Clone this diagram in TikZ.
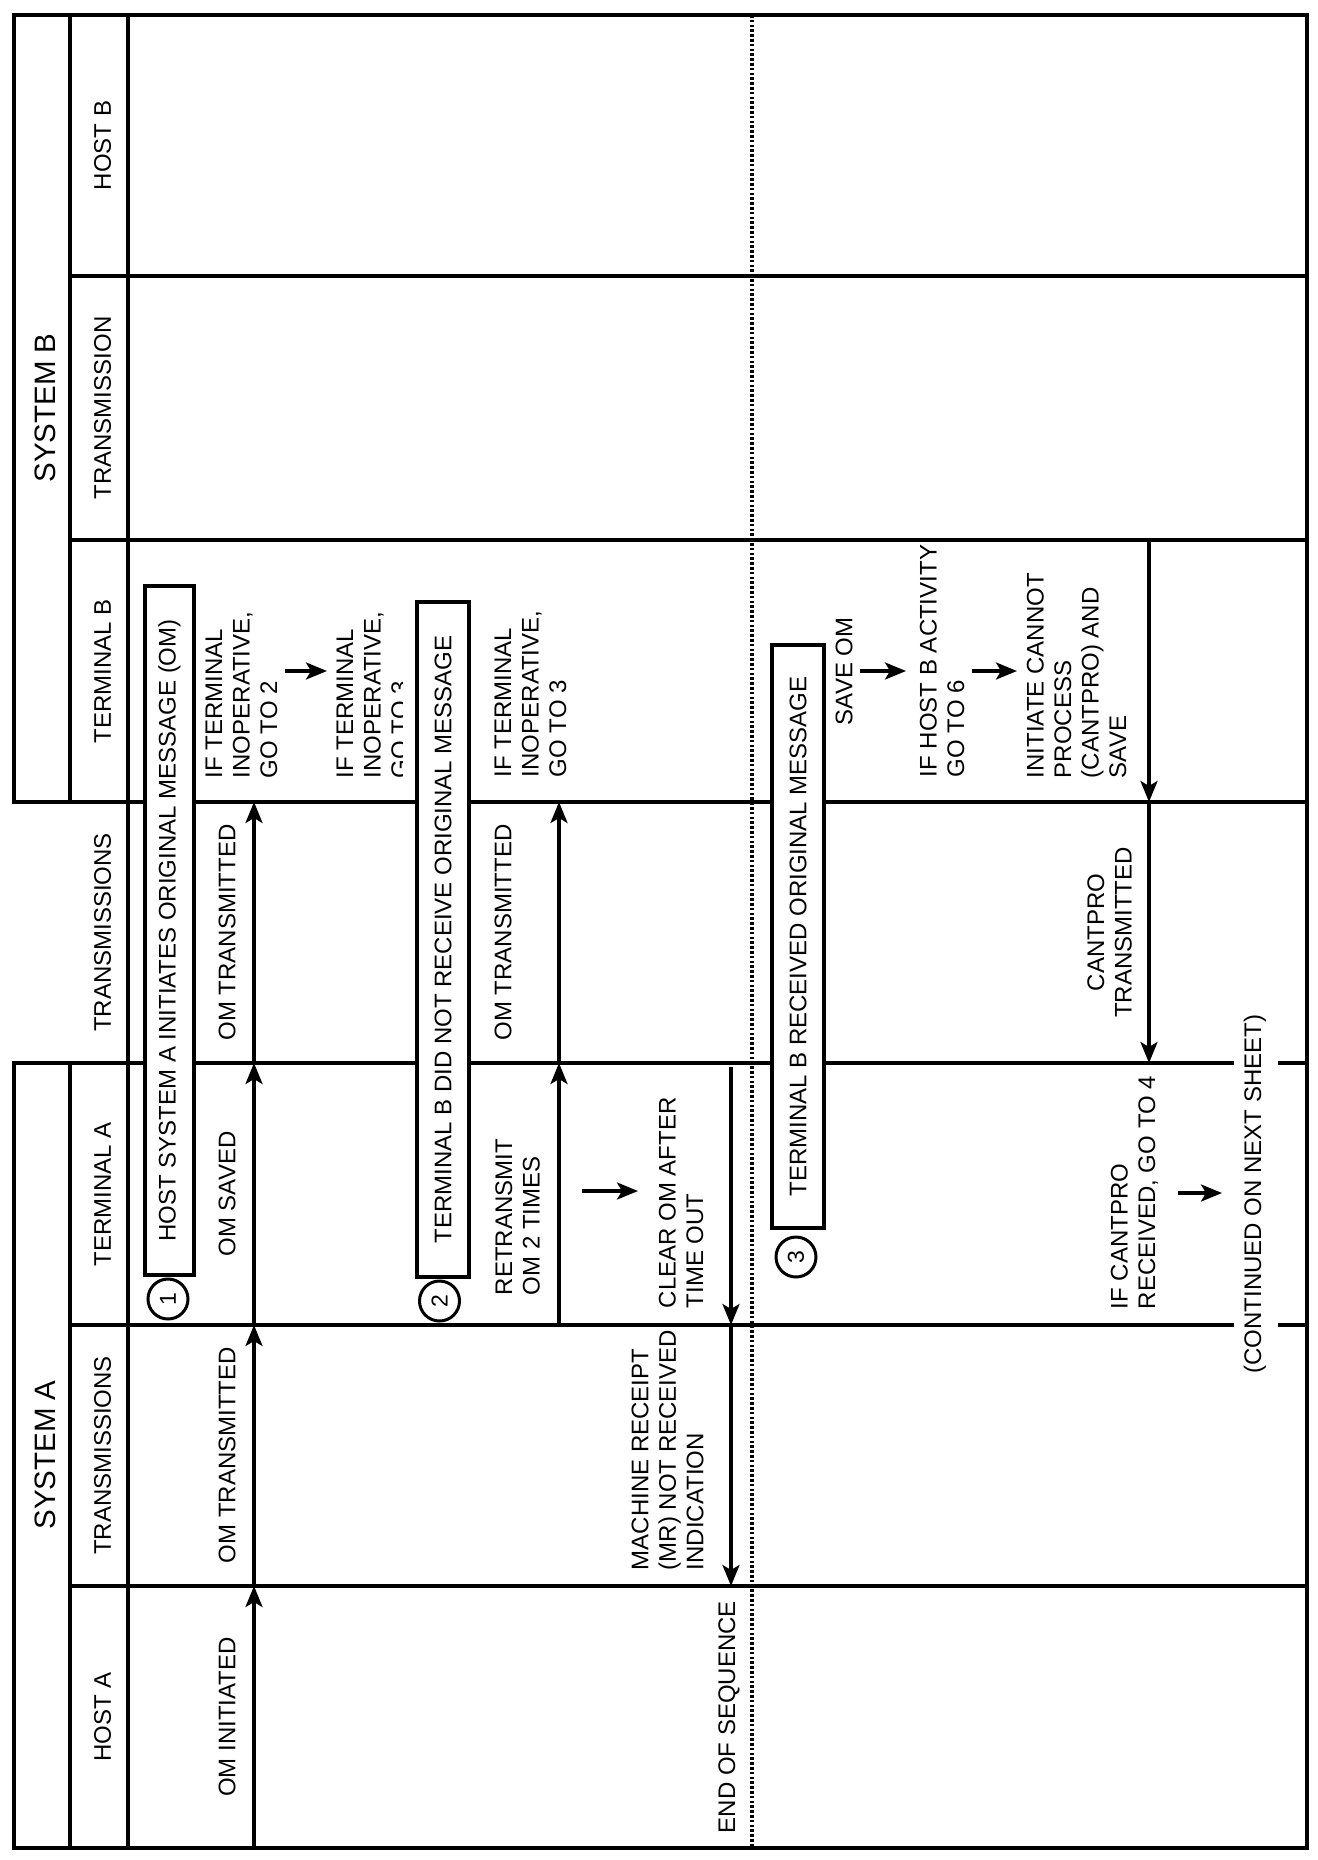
\documentclass[tikz,border=0pt]{standalone}
\usepackage{fontspec}
\setmainfont{Liberation Sans}
\usetikzlibrary{arrows.meta}
\begin{document}
\begin{tikzpicture}[x=1pt,y=-1pt,
  every node/.style={inner sep=0pt, outer sep=0pt},
  ln/.style={line width=3.3pt, line cap=rect},
  txt/.style={rotate=90, font=\fontsize{24}{27.5}\selectfont},
  blk/.style={txt, align=left, anchor=west},
  ctr/.style={txt, align=center},
  sys/.style={rotate=90, font=\fontsize{29.5}{34}\selectfont},
  msgbox/.style={draw, fill=white, line width=3.3pt, rotate=90, font=\fontsize{24}{27.5}\selectfont},
  num/.style={draw, circle, fill=white, line width=3pt, minimum size=40pt, rotate=90, font=\fontsize{23}{26}\selectfont},
  flow/.style={line width=3.2pt, -{Stealth[length=21pt,width=17pt,inset=5pt]}},
  dots/.style={line width=3.8pt, dash pattern=on 2.6pt off 2.2pt}
]
\useasboundingbox (0,0) rectangle (1317,1860);

% ---------- frame and lanes ----------
\draw[ln] (14,15) -- (1307,15) -- (1307,1848) -- (14,1848);
\draw[ln] (14,15) -- (14,802);
\draw[ln] (14,1063) -- (14,1848);
\draw[ln] (70,15) -- (70,802);
\draw[ln] (70,1063) -- (70,1848);
\draw[ln] (128,15) -- (128,1848);
\draw[ln] (70,276) -- (1307,276);
\draw[ln] (70,540) -- (1307,540);
\draw[ln] (14,802) -- (1307,802);
\draw[ln] (14,1063) -- (1232,1063);
\draw[ln] (1280,1063) -- (1307,1063);
\draw[ln] (70,1325) -- (1232,1325);
\draw[ln] (1280,1325) -- (1307,1325);
\draw[ln] (70,1586) -- (1307,1586);

% dotted divider
\coordinate (dtop) at (752,15);
\coordinate (dbot) at (752,1848);
\draw[dots] (dtop) -- (dbot);

% ---------- headers ----------
\node[sys] (sysB) at (45,408) {SYSTEM B};
\node[sys] (sysA) at (45,1455) {SYSTEM A};
\node[txt] (hHostB) at (102.5,145.5) {HOST B};
\node[txt] (hTransB) at (102.5,408) {TRANSMISSION};
\node[txt] (hTermB) at (102.5,671) {TERMINAL B};
\node[txt] (hTransM) at (102.5,932.5) {TRANSMISSIONS};
\node[txt] (hTermA) at (102.5,1194) {TERMINAL A};
\node[txt] (hTransA) at (102.5,1455.5) {TRANSMISSIONS};
\node[txt] (hHostA) at (102.5,1717) {HOST A};

% ---------- labels ----------
\node[txt] (omInit) at (227,1717) {OM INITIATED};
\node[txt] (omTransA) at (227,1455) {OM TRANSMITTED};
\node[txt] (omSaved) at (227,1194) {OM SAVED};
\node[txt] (omTransM) at (227,932.5) {OM TRANSMITTED};
\node[txt] (omTransM2) at (503,932.5) {OM TRANSMITTED};

\node[blk] (ifT1) at (241.5,778) {IF TERMINAL\\INOPERATIVE,\\GO TO 2};
\node[blk] (ifT2) at (372.5,778) {IF TERMINAL\\INOPERATIVE,\\GO TO 3};
\node[blk] (ifT3) at (530.5,777) {IF TERMINAL\\INOPERATIVE,\\GO TO 3};
\node[blk] (saveOM) at (844,725) {SAVE OM};
\node[blk] (ifHost) at (942,777) {IF HOST B ACTIVITY\\GO TO 6};
\node[blk] (initC) at (1076.5,778) {INITIATE CANNOT\\PROCESS\\(CANTPRO) AND\\SAVE};
\node[ctr] (cantTx) at (1109.5,932.5) {CANTPRO\\TRANSMITTED};
\node[blk] (retx) at (517.5,1295) {RETRANSMIT\\OM 2 TIMES};
\node[blk] (clear) at (681,1308) {CLEAR OM AFTER\\TIME OUT};
\node[blk] (mr) at (667.5,1570) {MACHINE RECEIPT\\(MR) NOT RECEIVED\\INDICATION};
\node[blk] (ifCant) at (1134.5,1309) {IF CANTPRO\\RECEIVED, GO TO 4};
\node[txt] (cont) at (1255,1194) {(CONTINUED ON NEXT SHEET)};
\node[txt] (eos) at (729,1717) {END OF SEQUENCE};

% ---------- flow arrows ----------
\coordinate (a0) at (254,1848);
\coordinate (a1) at (254,1586);
\coordinate (a2) at (254,1325);
\coordinate (a3) at (254,1063);
\coordinate (a4) at (254,802);
\draw[flow] (a0) -- (a1);
\draw[flow] (a1) -- (a2);
\draw[flow] (a2) -- (a3);
\draw[flow] (a3) -- (a4);

\coordinate (b0) at (559,1325);
\coordinate (b1) at (559,1063);
\coordinate (b2) at (559,802);
\draw[flow] (b0) -- (b1);
\draw[flow] (b1) -- (b2);

\coordinate (c0) at (731,1067);
\coordinate (c1) at (731,1325);
\coordinate (c2) at (731,1586);
\draw[flow] (c0) -- (c1);
\draw[flow] (c1) -- (c2);

\coordinate (d0) at (1149,540);
\coordinate (d1) at (1149,802);
\coordinate (d2) at (1149,1063);
\draw[flow] (d0) -- (d1);
\draw[flow] (d1) -- (d2);

% small step arrows
\coordinate (s1a) at (285,671);  \coordinate (s1b) at (327,671);
\coordinate (s2a) at (860,671);  \coordinate (s2b) at (906,671);
\coordinate (s3a) at (972,671);  \coordinate (s3b) at (1017,671);
\coordinate (s4a) at (582,1191); \coordinate (s4b) at (638,1191);
\coordinate (s5a) at (1178,1193); \coordinate (s5b) at (1222,1193);
\draw[flow] (s1a) -- (s1b);
\draw[flow] (s2a) -- (s2b);
\draw[flow] (s3a) -- (s3b);
\draw[flow] (s4a) -- (s4b);
\draw[flow] (s5a) -- (s5b);

% ---------- boxes and step numbers ----------
\fill[white] (403,600) rectangle (417,790);
\node[msgbox, minimum width=689pt, minimum height=49pt] (box1) at (169.5,930.5) {HOST SYSTEM A INITIATES ORIGINAL MESSAGE (OM)};
\node[msgbox, minimum width=675pt, minimum height=52pt] (box2) at (443,939.5) {TERMINAL B DID NOT RECEIVE ORIGINAL MESSAGE};
\node[msgbox, minimum width=583pt, minimum height=52pt] (box3) at (798,936.5) {TERMINAL B RECEIVED ORIGINAL MESSAGE};

\node[num] (n1) at (168,1299) {1};
\node[num] (n2) at (439.5,1301) {2};
\node[num] (n3) at (796,1257) {3};
\end{tikzpicture}
\end{document}
